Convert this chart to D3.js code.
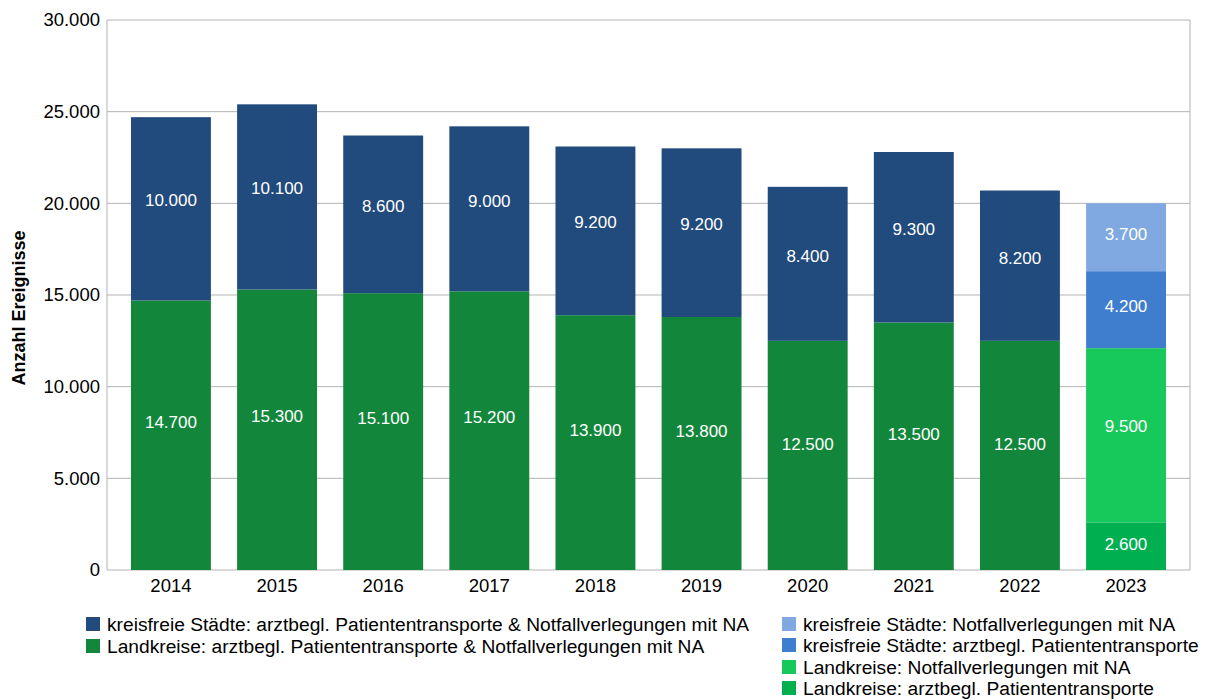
<!DOCTYPE html>
<html>
<head>
<meta charset="utf-8">
<script src="https://cdn.jsdelivr.net/npm/d3@7"></script>
<style>
  html, body { margin: 0; padding: 0; background: #fff; overflow: hidden; font-family: "Liberation Sans", Arial, sans-serif; }
  svg { display: block; }
</style>
</head>
<body>
<div id="chart"></div>
<script>
// Data
const years = ["2014", "2015", "2016", "2017", "2018", "2019", "2020", "2021", "2022", "2023"];
const landkreiseGesamt = [14700, 15300, 15100, 15200, 13900, 13800, 12500, 13500, 12500, null];
const staedteGesamt = [10000, 10100, 8600, 9000, 9200, 9200, 8400, 9300, 8200, null];
const landkreisePT = [null, null, null, null, null, null, null, null, null, 2600];
const landkreiseNV = [null, null, null, null, null, null, null, null, null, 9500];
const staedtePT = [null, null, null, null, null, null, null, null, null, 4200];
const staedteNV = [null, null, null, null, null, null, null, null, null, 3700];
const yTicks = [0, 5000, 10000, 15000, 20000, 25000, 30000];

// stacking order from bottom to top
const series = [
  { key: "lkGes", values: landkreiseGesamt, color: "#12873b", label: "Landkreise: arztbegl. Patiententransporte & Notfallverlegungen mit NA" },
  { key: "ksGes", values: staedteGesamt, color: "#214a7d", label: "kreisfreie Städte: arztbegl. Patiententransporte & Notfallverlegungen mit NA" },
  { key: "lkPT", values: landkreisePT, color: "#00b050", label: "Landkreise: arztbegl. Patiententransporte" },
  { key: "lkNV", values: landkreiseNV, color: "#17c85a", label: "Landkreise: Notfallverlegungen mit NA" },
  { key: "ksPT", values: staedtePT, color: "#3f7ecf", label: "kreisfreie Städte: arztbegl. Patiententransporte" },
  { key: "ksNV", values: staedteNV, color: "#80a9e1", label: "kreisfreie Städte: Notfallverlegungen mit NA" },
];

const width = 1217;
const height = 700;
const margin = { top: 20, right: 27, bottom: 130, left: 107 };
const innerWidth = width - margin.left - margin.right;
const innerHeight = height - margin.top - margin.bottom;

const svg = d3.select("#chart").append("svg")
  .attr("width", width)
  .attr("height", height)
  .style("font-family", "'Liberation Sans', Arial, sans-serif");

const chart = svg.append("g").attr("transform", `translate(${margin.left}, ${margin.top})`);

const fmt = d3.formatLocale({ decimal: ",", thousands: ".", grouping: [3], currency: ["", "€"] }).format(",.0f");

const x = d3.scaleBand().domain(years).range([0, innerWidth]).paddingInner(0.247).paddingOuter(0.226);
const y = d3.scaleLinear().domain([0, 30000]).range([innerHeight, 0]);

// Gridlines
chart.append("g")
  .selectAll("line")
  .data(yTicks)
  .join("line")
  .attr("x1", 0).attr("x2", innerWidth)
  .attr("y1", d => y(d)).attr("y2", d => y(d))
  .attr("stroke", "#b3b3b3").attr("stroke-width", 1);

// side borders
chart.append("line").attr("x1", 0).attr("x2", 0).attr("y1", 0).attr("y2", innerHeight)
  .attr("stroke", "#b3b3b3");
chart.append("line").attr("x1", innerWidth).attr("x2", innerWidth).attr("y1", 0).attr("y2", innerHeight)
  .attr("stroke", "#b3b3b3");

// Stack the segments
const segments = [];
years.forEach((yr, i) => {
  let base = 0;
  series.forEach(s => {
    const v = s.values[i];
    if (v == null) return;
    segments.push({ year: yr, y0: base, y1: base + v, value: v, color: s.color });
    base += v;
  });
});

chart.append("g")
  .selectAll("rect")
  .data(segments)
  .join("rect")
  .attr("x", d => x(d.year))
  .attr("width", x.bandwidth())
  .attr("y", d => y(d.y1))
  .attr("height", d => y(d.y0) - y(d.y1))
  .attr("fill", d => d.color);

// Value labels
chart.append("g")
  .selectAll("text")
  .data(segments)
  .join("text")
  .attr("x", d => x(d.year) + x.bandwidth() / 2)
  .attr("y", d => y(d.y0 + d.value * 0.55))
  .attr("dy", "0.35em")
  .attr("text-anchor", "middle")
  .attr("fill", "#fff")
  .style("font-size", "17px")
  .text(d => fmt(d.value));

// Axes labels
chart.append("g")
  .selectAll("text")
  .data(yTicks)
  .join("text")
  .attr("x", -7)
  .attr("y", d => y(d))
  .attr("dy", "0.35em")
  .attr("text-anchor", "end")
  .style("font-size", "18.5px")
  .attr("fill", "#000")
  .text(d => fmt(d));

chart.append("g")
  .selectAll("text")
  .data(years)
  .join("text")
  .attr("x", d => x(d) + x.bandwidth() / 2)
  .attr("y", innerHeight + 22)
  .attr("text-anchor", "middle")
  .style("font-size", "18.5px")
  .attr("fill", "#000")
  .text(d => d);

svg.append("text")
  .attr("transform", `translate(25, ${margin.top + innerHeight / 2 + 13}) rotate(-90)`)
  .attr("text-anchor", "middle")
  .style("font-size", "18px")
  .style("font-weight", "bold")
  .text("Anzahl Ereignisse");

// Legend
const legendItems = [
  { s: series[1], x: 86, y: 624 },
  { s: series[0], x: 86, y: 646 },
  { s: series[5], x: 782, y: 624 },
  { s: series[4], x: 782, y: 645 },
  { s: series[3], x: 782, y: 667 },
  { s: series[2], x: 782, y: 688 },
];

const legend = svg.append("g")
  .selectAll("g")
  .data(legendItems)
  .join("g")
  .attr("transform", d => `translate(${d.x}, ${d.y})`);

legend.append("rect")
  .attr("x", 0).attr("y", -7)
  .attr("width", 14).attr("height", 14)
  .attr("fill", d => d.s.color);

legend.append("text")
  .attr("x", 21)
  .attr("dy", "0.35em")
  .style("font-size", "19.2px")
  .text(d => d.s.label);
</script>
</body>
</html>
